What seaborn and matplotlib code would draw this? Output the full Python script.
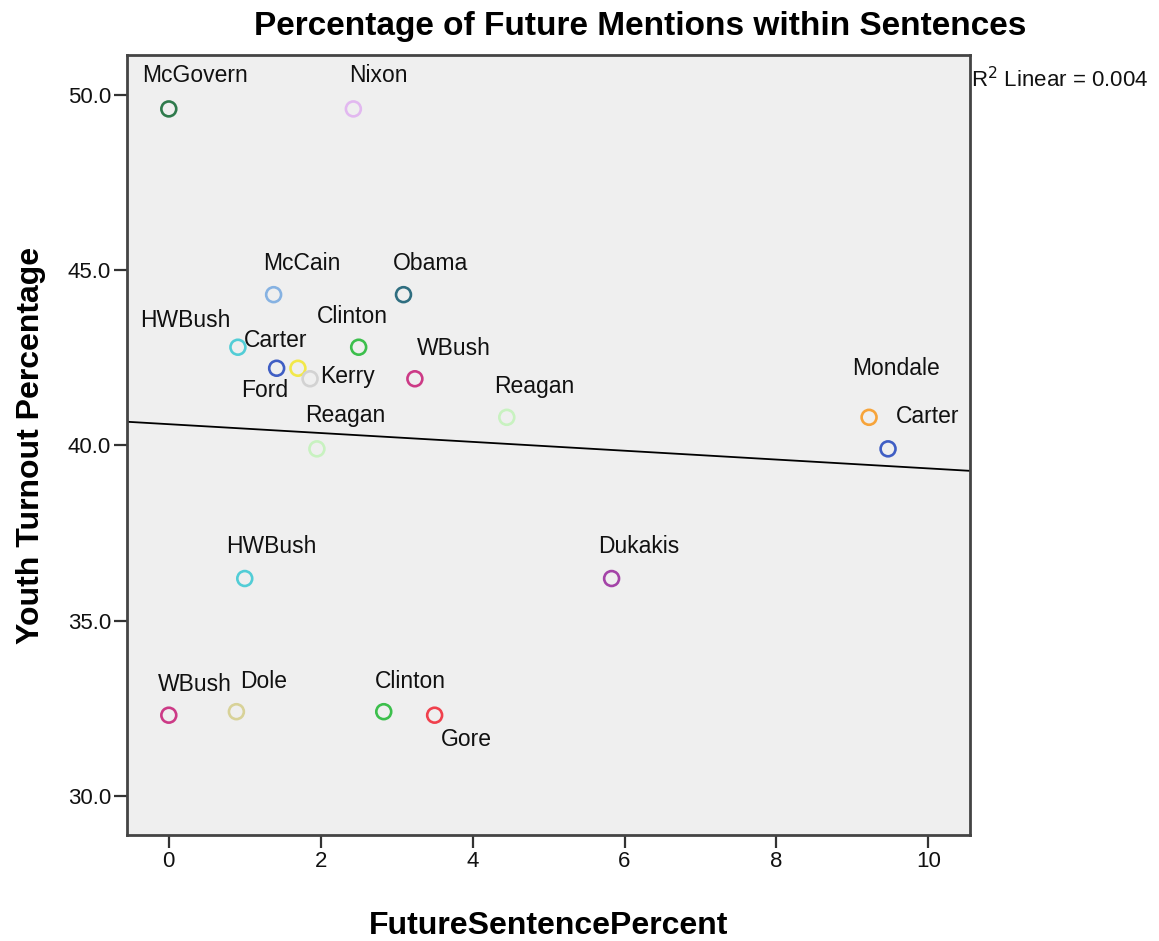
import numpy as np
import pandas as pd
import matplotlib
matplotlib.use("Agg")
import matplotlib.pyplot as plt
import seaborn as sns

# Future-tense share of sentences in each candidate's speech vs. youth turnout that year
candidates = ["McGovern", "Nixon", "McCain", "Obama", "HWBush", "Carter", "Ford",
              "Kerry", "Clinton", "WBush", "Reagan", "Reagan", "Mondale", "Carter",
              "HWBush", "Dukakis", "WBush", "Dole", "Clinton", "Gore"]
future_pct = [0.00, 2.43, 1.38, 3.09, 0.91, 1.42, 1.70,
              1.86, 2.50, 3.24, 4.45, 1.95, 9.22, 9.47,
              1.00, 5.83, 0.00, 0.89, 2.83, 3.50]
youth_turnout = [49.6, 49.6, 44.3, 44.3, 42.8, 42.2, 42.2,
                 41.9, 42.8, 41.9, 40.8, 39.9, 40.8, 39.9,
                 36.2, 36.2, 32.3, 32.4, 32.4, 32.3]

x_ticks = [0, 2, 4, 6, 8, 10]
y_ticks = [30.0, 35.0, 40.0, 45.0, 50.0]

candidate_colors = {
    "McGovern": "#2f7a4c", "Nixon": "#e2b8f0", "McCain": "#86b2e2",
    "Obama": "#2f6e80", "HWBush": "#52cdd6", "Carter": "#3f5ec4",
    "Ford": "#f2e84a", "Kerry": "#d2d2d2", "Clinton": "#3cbf4c",
    "WBush": "#cc3a86", "Reagan": "#c8f2c0", "Mondale": "#f7a43a",
    "Dukakis": "#a444a8", "Dole": "#d8d298", "Gore": "#f0404c",
}

# label offsets from each point, in pixels (dx right, dy down)
label_offsets = [(26, -33), (25, -33), (28, -31), (27, -31), (-53, -27), (-1, -28),
                 (-33, 22), (37, -2), (-6, -31), (39, -30), (27, -31), (28, -33),
                 (27, -49), (40, -32), (27, -32), (27, -32), (26, -31), (27, -30),
                 (27, -30), (32, 24)]

df = pd.DataFrame({"candidate": candidates, "future": future_pct, "youth": youth_turnout})

sns.set_theme(style="white")
plt.rcParams["font.family"] = ["Liberation Sans", "DejaVu Sans"]
plt.rcParams["text.color"] = "black"
plt.rcParams["axes.labelcolor"] = "black"

fig = plt.figure(figsize=(11.59, 9.41), dpi=100)
ax = fig.add_axes([0.1096, 0.1126, 0.7274, 0.829])
ax.set_facecolor("#efefef")
ax.set_xlim(-0.55, 10.55)
ax.set_ylim(28.88, 51.14)

sns.regplot(data=df, x="future", y="youth", scatter=False, ci=None, truncate=False,
            line_kws=dict(color="black", lw=1.3), ax=ax)

sns.scatterplot(data=df, x="future", y="youth", hue="candidate", palette=candidate_colors,
                s=115, linewidth=1.9, legend=False, ax=ax, zorder=3)
pts = ax.collections[-1]
pts.set_edgecolors(pts.get_facecolors())
pts.set_facecolors("none")

px = 72 / 100
for name, xv, yv, (dx, dy) in zip(candidates, future_pct, youth_turnout, label_offsets):
    ax.annotate(name, (xv, yv), xytext=(dx * px, -dy * px), textcoords="offset points",
                ha="center", va="center", fontsize=16.5, color="#111111")

r2 = np.corrcoef(future_pct, youth_turnout)[0, 1] ** 2
fig.text(0.8375, 0.915, f"R$^2$ Linear = {r2:.3f}", fontsize=16, ha="left", va="center",
         color="#111111")

ax.set_xticks(x_ticks)
ax.set_yticks(y_ticks)
ax.set_yticklabels([f"{v:.1f}" for v in y_ticks])
ax.tick_params(axis="both", direction="out", length=9.5, width=1.6, color="#333333",
               labelsize=16, labelcolor="#111111", pad=2, left=True, bottom=True)
for sp in ax.spines.values():
    sp.set_color("#444444")
    sp.set_linewidth(2.0)

ax.set_xlabel("FutureSentencePercent", fontsize=23, fontweight="bold", labelpad=28)
ax.set_ylabel("Youth Turnout Percentage", fontsize=23, fontweight="bold", labelpad=16)
fig.text(0.552, 0.972, "Percentage of Future Mentions within Sentences",
         fontsize=24, fontweight="bold", ha="center", va="center")

fig.savefig("out.png", dpi=100, facecolor="white")
